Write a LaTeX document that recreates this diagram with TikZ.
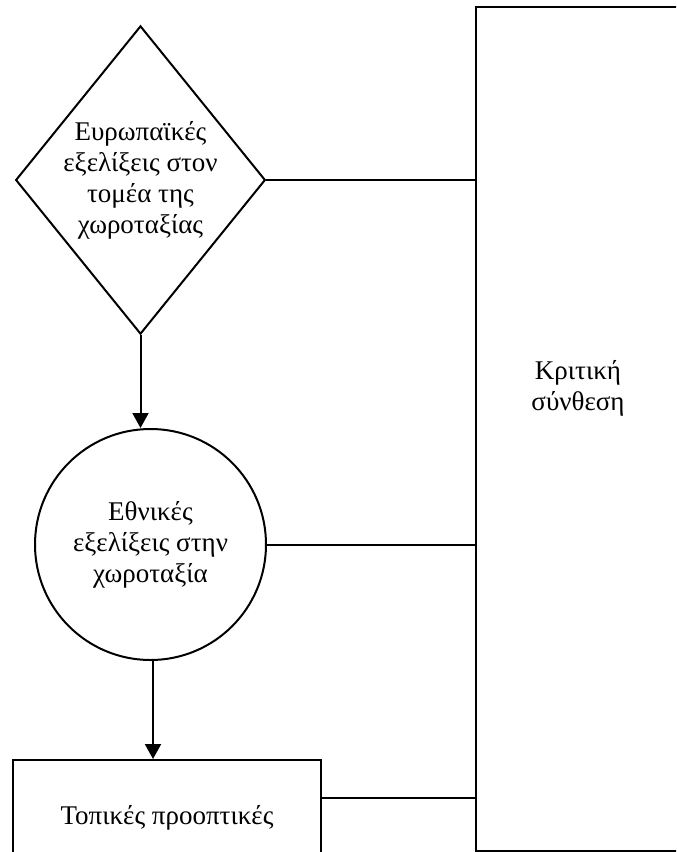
\documentclass[tikz,border=0pt]{standalone}
\usepackage{fontspec}
\setmainfont{Liberation Serif}
\usetikzlibrary{shapes.geometric,arrows.meta,calc}

\tikzset{
  every node/.style={font=\fontsize{13.5}{15.5}\selectfont, align=center, inner sep=0pt},
  stage/.style={draw=black, line width=1pt},
  flow/.style={line width=1pt, -{Triangle[length=7.5pt,width=8pt]}},
  link/.style={line width=1pt},
}

\begin{document}
\begin{tikzpicture}[x=0.5pt,y=-0.5pt]
  \useasboundingbox (0,0) rectangle (676,852);
  \clip (0,0) rectangle (676,852);

  % synthesis column on the right
  \node[stage, rectangle, minimum width=104pt, minimum height=422pt] (crit) at (580,429) {};
  \node (critlabel) at (578,388) {Κριτική\\σύνθεση};

  % three levels on the left
  \node[stage, diamond, shape aspect=0.81, minimum width=124.5pt, minimum height=153pt] (eu) at (140.5,180)
    {Ευρωπαϊκές\\εξελίξεις στον\\τομέα της\\χωροταξίας};
  \node[stage, circle, minimum size=115.5pt] (nat) at (150.5,544.5)
    {Εθνικές\\εξελίξεις στην\\χωροταξία};
  \node[stage, rectangle, minimum width=154pt, minimum height=58pt] (loc) at (167,818)
    {Τοπικές προοπτικές};

  % downward flow
  \draw[flow] (eu.south) -- (eu.south |- nat.north);
  \draw[flow] ([xshift=1.25pt]nat.south) -- ([xshift=1.25pt]nat.south |- loc.north);

  % links into the synthesis column
  \draw[link] (eu.east) -- (eu.east -| crit.west);
  \draw[link] (nat.east) -- (nat.east -| crit.west);
  \coordinate (locport) at ([yshift=10pt]loc.east);
  \draw[link] (locport) -- (locport -| crit.west);
\end{tikzpicture}
\end{document}
